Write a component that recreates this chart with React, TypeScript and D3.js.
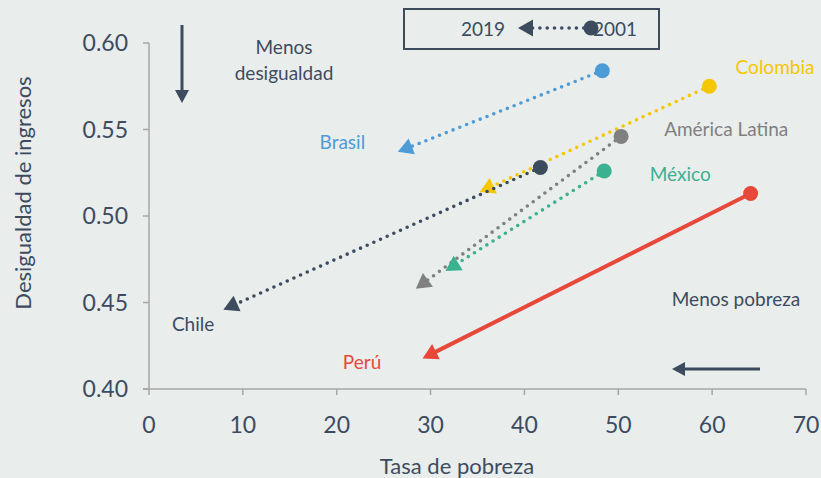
import React from "react";
import * as d3 from "d3";

const countries = ["Brasil", "Colombia", "América Latina", "México", "Chile", "Perú"];
const poverty2001 = [48.3, 59.7, 50.3, 48.5, 41.7, 64.1];
const gini2001 = [0.584, 0.575, 0.546, 0.526, 0.528, 0.513];
const poverty2019 = [27.4, 36.1, 29.2, 32.4, 8.8, 30.0];
const gini2019 = [0.539, 0.516, 0.461, 0.471, 0.448, 0.42];
const colors = ["#4d9cd8", "#f5c700", "#808080", "#3ab18f", "#3d4b5f", "#e8483a"];
const solid = [false, false, false, false, false, true];
// label anchor positions in data units
const labelX = [20.6, 66.7, 61.5, 56.6, 4.7, 22.7];
const labelY = [0.5428, 0.5861, 0.5503, 0.5243, 0.4376, 0.4156];

const xTicks = [0, 10, 20, 30, 40, 50, 60, 70];
const yTicks = [0.4, 0.45, 0.5, 0.55, 0.6];

const W = 821;
const H = 478;
const DARK = "#3d4b5f";
const AXIS = "#a6a6a6";
const FONT = "Lato, 'Noto Sans', sans-serif";

function tri(cx: number, cy: number, angle: number, tip = 9, back = 6, half = 8.5) {
  const c = Math.cos(angle), s = Math.sin(angle);
  const pt = (a: number, b: number) => [cx + a * c - b * s, cy + a * s + b * c];
  const p1 = pt(tip, 0), p2 = pt(-back, half), p3 = pt(-back, -half);
  return `M${p1[0]},${p1[1]}L${p2[0]},${p2[1]}L${p3[0]},${p3[1]}Z`;
}

export default function App() {
  const x = d3.scaleLinear().domain([0, 70]).range([149, 806]);
  const y = d3.scaleLinear().domain([0.4, 0.6]).range([389, 43]);

  return (
    <svg width={W} height={H} style={{ position: "absolute", left: 0, top: 0, display: "block" }} fontFamily={FONT}>
      <rect width={W} height={H} fill="#e9edec" />
      {/* axes */}
      <line x1={x(0)} x2={x(0)} y1={y(0.6)} y2={y(0.4)} stroke={AXIS} strokeWidth={1.5} />
      <line x1={x(0) - 6} x2={x(70)} y1={y(0.4)} y2={y(0.4)} stroke={AXIS} strokeWidth={1.5} />
      {yTicks.map((t) => (
        <g key={"y" + t}>
          <line x1={x(0) - 6} x2={x(0)} y1={y(t)} y2={y(t)} stroke={AXIS} strokeWidth={1.5} />
          <text x={x(0) - 21} y={y(t)} dy="0.35em" textAnchor="end" fontSize={23} fill={DARK}>
            {d3.format(".2f")(t)}
          </text>
        </g>
      ))}
      {xTicks.map((t) => (
        <g key={"x" + t}>
          <line x1={x(t)} x2={x(t)} y1={y(0.4)} y2={y(0.4) + 6} stroke={AXIS} strokeWidth={1.5} />
          <text x={x(t)} y={y(0.4) + 44} textAnchor="middle" fontSize={23} fill={DARK}>
            {t}
          </text>
        </g>
      ))}
      <text x={457} y={474} textAnchor="middle" fontSize={22} fill={DARK}>
        Tasa de pobreza
      </text>
      <text transform={`translate(31,193) rotate(-90)`} textAnchor="middle" fontSize={22} fill={DARK}>
        Desigualdad de ingresos
      </text>

      {/* series */}
      {countries.map((c, i) => {
        const x1 = x(poverty2001[i]), y1 = y(gini2001[i]);
        const x2 = x(poverty2019[i]), y2 = y(gini2019[i]);
        const ang = Math.atan2(y2 - y1, x2 - x1);
        return (
          <g key={c}>
            <line
              x1={x1}
              y1={y1}
              x2={x2}
              y2={y2}
              stroke={colors[i]}
              strokeWidth={solid[i] ? 4 : 3.6}
              strokeLinecap="round"
              strokeDasharray={solid[i] ? undefined : "0 7.3"}
            />
            <circle cx={x1} cy={y1} r={7.5} fill={colors[i]} />
            <path d={tri(x2, y2, ang)} fill={colors[i]} />
            <text x={x(labelX[i])} y={y(labelY[i])} dy="0.35em" textAnchor="middle" fontSize={19} fill={colors[i]}>
              {c}
            </text>
          </g>
        );
      })}

      {/* legend box */}
      <rect x={404} y={9} width={255} height={40} fill="none" stroke={DARK} strokeWidth={2} />
      <text x={483} y={29} dy="0.35em" textAnchor="middle" fontSize={19} fill={DARK}>2019</text>
      <line x1={591} y1={28} x2={527} y2={28} stroke={DARK} strokeWidth={3.6} strokeLinecap="round" strokeDasharray="0 7.3" />
      <circle cx={591} cy={28} r={7.5} fill={DARK} />
      <path d={tri(527, 28, Math.PI)} fill={DARK} />
      <text x={615} y={29} dy="0.35em" textAnchor="middle" fontSize={19} fill={DARK}>2001</text>

      {/* annotations */}
      <line x1={182} y1={25} x2={182} y2={92} stroke={DARK} strokeWidth={3} />
      <path d={tri(182, 96, Math.PI / 2, 7, 6, 7)} fill={DARK} />
      <text x={284} y={47} dy="0.35em" textAnchor="middle" fontSize={19} fill={DARK}>Menos</text>
      <text x={284} y={73} dy="0.35em" textAnchor="middle" fontSize={19} fill={DARK}>desigualdad</text>
      <line x1={760} y1={369} x2={684} y2={369} stroke={DARK} strokeWidth={3} />
      <path d={tri(679, 369, Math.PI, 7, 6, 7)} fill={DARK} />
      <text x={736} y={299} dy="0.35em" textAnchor="middle" fontSize={19} fill={DARK}>Menos pobreza</text>
    </svg>
  );
}
